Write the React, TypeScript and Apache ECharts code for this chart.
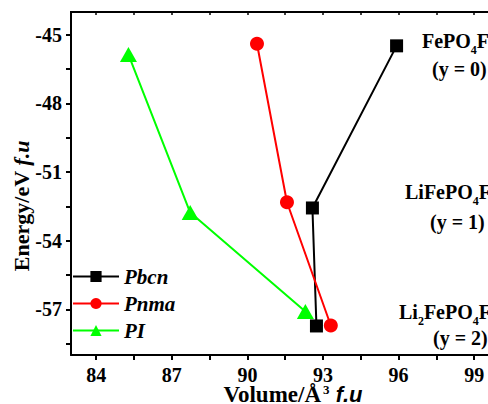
import React, { useEffect, useRef } from "react";
import * as echarts from "echarts";

const seriesNames = ["Pbcn", "Pnma", "PI"];
const pbcnVolume = [95.92, 92.58, 92.74];
const pbcnEnergy = [-45.48, -52.57, -57.73];
const pnmaVolume = [90.38, 91.57, 93.31];
const pnmaEnergy = [-45.39, -52.32, -57.71];
const piVolume = [85.28, 87.73, 92.3];
const piEnergy = [-45.86, -52.77, -57.1];

const xMajorTicks = [84, 87, 90, 93, 96, 99, 102];
const xAllTicks = [84, 85.5, 87, 88.5, 90, 91.5, 93, 94.5, 96, 97.5, 99, 100.5, 102];
const yMajorTicks = [-57, -54, -51, -48, -45];
const yAllTicks = [-58.5, -57, -55.5, -54, -52.5, -51, -49.5, -48, -46.5, -45];

const phaseFormulas = ["{b|FePO}{sub|4}{b|F}", "{b|LiFePO}{sub|4}{b|F}", "{b|Li}{sub|2}{b|FePO}{sub|4}{b|F}"];
const phaseContents = ["(y = 0)", "(y = 1)", "(y = 2)"];
const xTitle = "{b|Volume/Å}{sup|3}{i| f.u}";
const yTitle = "{b|Energy/eV }{i|f.u}";

const SERIF = "'Liberation Serif', 'Times New Roman', serif";
const SANS = "'Liberation Sans', Arial, sans-serif";

const zip = (xs: number[], ys: number[]) => xs.map((x, i) => [x, ys[i]]);

const GRID_LEFT = 71;
const GRID_TOP = 12;
const GRID_W = 19 * 25.2;
const GRID_H = 343;

export default function App() {
  const ref = useRef<HTMLDivElement>(null);
  useEffect(() => {
    if (!ref.current) return;
    const chart = echarts.init(ref.current, null, { renderer: "svg" });
    const ls = (w = 2) => ({ color: "#000", width: w });
    const xBase = () => ({ type: "value", min: 83, max: 102, gridIndex: 0, splitLine: { show: false } });
    const yBase = () => ({ type: "value", min: -59, max: -44, gridIndex: 0, splitLine: { show: false } });
    const tickFont = () => ({ fontFamily: SERIF, fontSize: 20, fontWeight: "bold", color: "#000", lineHeight: 18 });
    const tok = (extra: any) => ({ fontFamily: SERIF, fontSize: 20, fontWeight: "bold", fill: "#000", lineHeight: 30, ...extra });
    const annPos = [
      { x: 422, y: 41, x2: 432, y2: 69 },
      { x: 405, y: 192, x2: 430, y2: 222 },
      { x: 399, y: 312, x2: 433, y2: 338 },
    ];
    const graphics: any[] = [];
    phaseFormulas.forEach((t, i) => {
      graphics.push({
        type: "text",
        x: annPos[i].x,
        y: annPos[i].y,
        style: {
          text: t,
          rich: { b: tok({}), sub: tok({ fontSize: 12, lineHeight: 10, verticalAlign: "bottom" }) },
          align: "left",
          verticalAlign: "middle",
        },
      });
      graphics.push({
        type: "text",
        x: annPos[i].x2,
        y: annPos[i].y2,
        style: {
          text: phaseContents[i],
          fontFamily: SERIF,
          fontSize: 20,
          fontWeight: "bold",
          fill: "#000",
          align: "left",
          verticalAlign: "middle",
        },
      });
    });
    graphics.push({
      type: "text",
      x: 293,
      y: 394,
      style: {
        text: xTitle,
        align: "center",
        verticalAlign: "middle",
        rich: {
          b: tok({ fontSize: 23, lineHeight: 22 }),
          sup: tok({ fontSize: 13, lineHeight: 8, verticalAlign: "top", padding: [0, 0, 0, 2] }),
          i: { fontFamily: SANS, fontSize: 22, fontWeight: "bold", fontStyle: "italic", fill: "#000", lineHeight: 22 },
        },
      },
    });
    graphics.push({
      type: "text",
      x: 21,
      y: 206,
      rotation: Math.PI / 2,
      style: {
        text: yTitle,
        align: "center",
        verticalAlign: "middle",
        rich: {
          b: tok({ fontSize: 22, lineHeight: 22 }),
          i: tok({ fontSize: 22, lineHeight: 22, fontStyle: "italic" }),
        },
      },
    });

    const mkSeries = (name: string, xs: number[], ys: number[], color: string, symbol: string, size: any) => ({
      name,
      type: "line",
      data: zip(xs, ys),
      symbol,
      symbolSize: size,
      lineStyle: { color, width: 2 },
      itemStyle: { color },
    });

    chart.setOption({
      animation: false,
      backgroundColor: "#fff",
      grid: {
        left: GRID_LEFT,
        top: GRID_TOP,
        width: GRID_W,
        height: GRID_H,
        outerBoundsMode: "none",
      },
      legend: {
        data: seriesNames,
        orient: "vertical",
        left: 72,
        top: 266,
        padding: 0,
        itemWidth: 46,
        itemHeight: 14,
        itemGap: 6,
        textStyle: { fontFamily: SERIF, fontSize: 21, fontWeight: "bold", fontStyle: "italic", color: "#000" },
      },
      xAxis: [
        {
          ...xBase(),
          position: "bottom",
          axisLine: { show: true, onZero: false, lineStyle: ls() },
          axisTick: { show: true, customValues: xAllTicks, length: 5, lineStyle: ls() },
          axisLabel: { customValues: xMajorTicks, margin: 11, ...tickFont() },
        },
        {
          ...xBase(),
          position: "top",
          z: 10,
          axisLine: { show: true, onZero: false, lineStyle: ls() },
          axisTick: { show: true, inside: true, customValues: xAllTicks, length: 3, lineStyle: ls(1.5) },
          axisLabel: { show: false },
        },
      ],
      yAxis: [
        {
          ...yBase(),
          position: "left",
          axisLine: { show: true, onZero: false, lineStyle: ls() },
          axisTick: { show: true, customValues: yAllTicks, length: 5, lineStyle: ls() },
          axisLabel: { customValues: yMajorTicks, margin: 9, ...tickFont() },
        },
      ],
      series: [
        mkSeries(seriesNames[0], pbcnVolume, pbcnEnergy, "#000000", "rect", 13),
        mkSeries(seriesNames[1], pnmaVolume, pnmaEnergy, "#ff0000", "circle", 14),
        mkSeries(seriesNames[2], piVolume, piEnergy, "#00ff00", "triangle", [17, 15]),
      ],
      graphic: graphics,
    });
    return () => chart.dispose();
  }, []);
  return (
    <div style={{ position: "absolute", left: 0, top: 0, width: 488, height: 404, overflow: "hidden", background: "#fff" }}>
      <div ref={ref} style={{ width: 560, height: 404 }} />
      <div
        style={{
          position: "absolute",
          left: GRID_LEFT - 1,
          top: GRID_TOP - 1,
          width: 488 - GRID_LEFT + 1,
          height: 2,
          background: "#000",
          pointerEvents: "none",
        }}
      />
    </div>
  );
}
